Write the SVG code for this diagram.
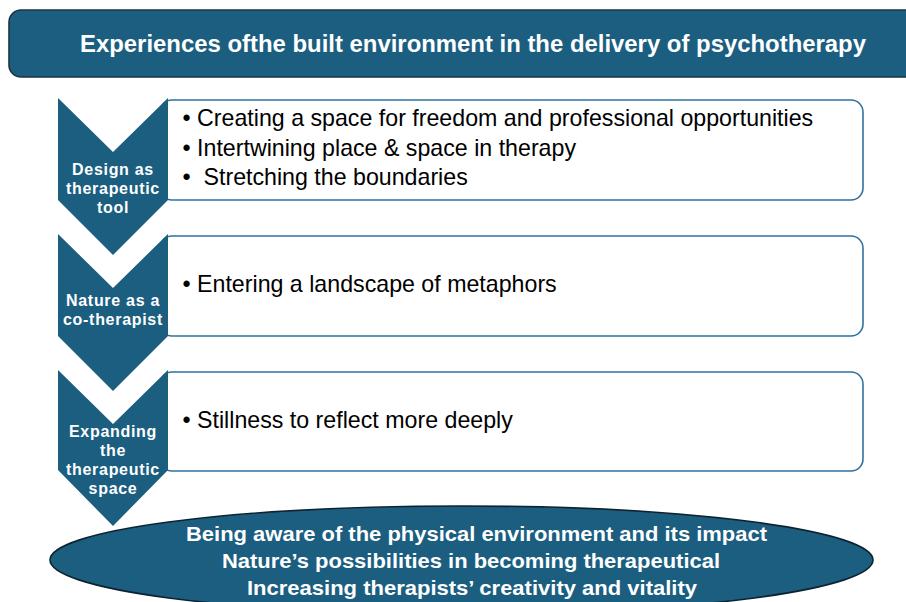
<svg xmlns="http://www.w3.org/2000/svg" width="906" height="602" viewBox="0 0 906 602">
  <style>
    .title { font-family: "Liberation Sans", Arial, sans-serif; font-weight: bold; font-size: 23px; fill: #ffffff; }
    .chev { fill: #1b5e80; }
    .chev-label { font-family: "Liberation Sans", Arial, sans-serif; font-weight: bold; font-size: 16px; letter-spacing: 0.7px; fill: #ffffff; text-anchor: middle; }
    .box { fill: #ffffff; stroke: #2f72a0; stroke-width: 1.6; }
    .item { font-family: "Liberation Sans", Arial, sans-serif; font-size: 23.2px; fill: #000000; }
    .oval { fill: #1b5e80; stroke: #0e2230; stroke-width: 1.6; }
    .oval-text { font-family: "Liberation Sans", Arial, sans-serif; font-weight: bold; font-size: 21px; fill: #ffffff; text-anchor: middle; }
  </style>

  <!-- header banner -->
  <g id="header">
    <rect x="9" y="10" width="920" height="67" rx="12" ry="12" fill="#1b5e80" stroke="#1d3442" stroke-width="1.6"/>
    <text class="title" x="80" y="52" textLength="786" lengthAdjust="spacingAndGlyphs">Experiences ofthe built environment in the delivery of psychotherapy</text>
  </g>

  <!-- theme 1 -->
  <g id="theme-design">
    <rect class="box" x="160" y="100" width="703" height="100" rx="12" ry="12"/>
    <polygon class="chev" points="58,98 113,152 168,98 168,200 113,255 58,200"/>
    <text class="chev-label"><tspan x="113" y="175">Design as</tspan><tspan x="113" y="194">therapeutic</tspan><tspan x="113" y="213">tool</tspan></text>
    <text class="item" x="182.5" y="126" xml:space="preserve">• Creating a space for freedom and professional opportunities</text>
    <text class="item" x="182.5" y="155.5" xml:space="preserve">• Intertwining place &amp; space in therapy</text>
    <text class="item" x="182.5" y="185" xml:space="preserve">•  Stretching the boundaries</text>
  </g>

  <!-- theme 2 -->
  <g id="theme-nature">
    <rect class="box" x="160" y="236" width="703" height="100" rx="12" ry="12"/>
    <polygon class="chev" points="58,234 113,288 168,234 168,336 113,391 58,336"/>
    <text class="chev-label"><tspan x="113" y="306">Nature as a</tspan><tspan x="113" y="325">co-therapist</tspan></text>
    <text class="item" x="182.5" y="292" xml:space="preserve">• Entering a landscape of metaphors</text>
  </g>

  <!-- theme 3 -->
  <g id="theme-expanding">
    <rect class="box" x="160" y="372" width="703" height="99" rx="12" ry="12"/>
    <polygon class="chev" points="58,370 113,424 168,370 168,470 113,526 58,470"/>
    <text class="chev-label"><tspan x="113" y="437">Expanding</tspan><tspan x="113" y="456">the</tspan><tspan x="113" y="475">therapeutic</tspan><tspan x="113" y="494">space</tspan></text>
    <text class="item" x="182.5" y="428" xml:space="preserve">• Stillness to reflect more deeply</text>
  </g>

  <!-- summary oval -->
  <g id="summary">
    <ellipse class="oval" cx="461.5" cy="560" rx="411.5" ry="54"/>
    <text class="oval-text" x="476.5" y="541" textLength="581" lengthAdjust="spacingAndGlyphs">Being aware of the physical environment and its impact</text>
    <text class="oval-text" x="471" y="568" textLength="498" lengthAdjust="spacingAndGlyphs">Nature’s possibilities in becoming therapeutical</text>
    <text class="oval-text" x="472" y="594.5" textLength="450" lengthAdjust="spacingAndGlyphs">Increasing therapists’ creativity and vitality</text>
  </g>

  <g id="connectors"></g>
</svg>
